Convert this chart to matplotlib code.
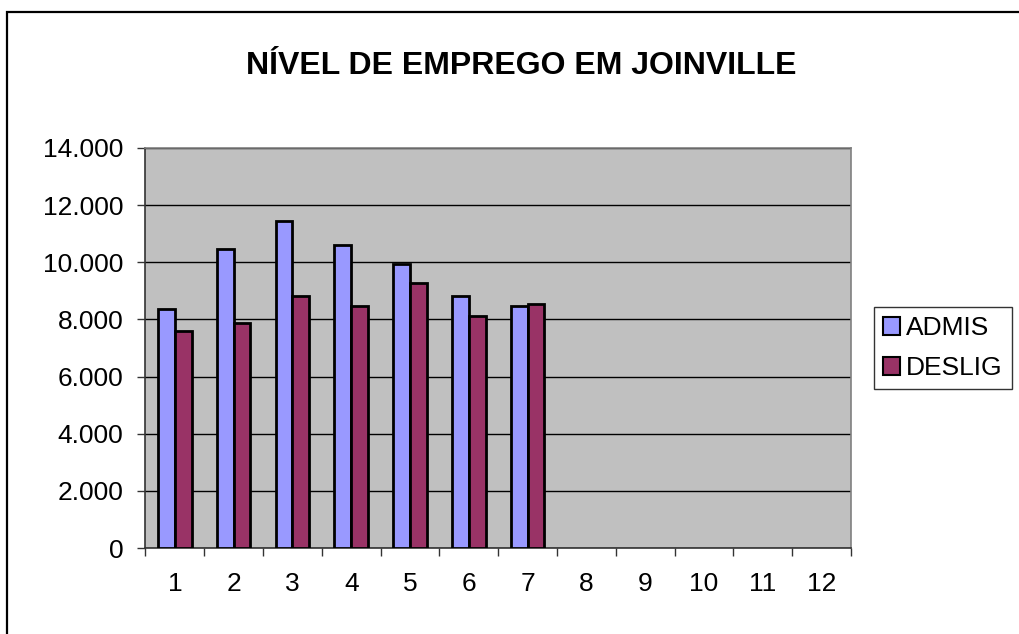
import numpy as np
import matplotlib
matplotlib.use("Agg")
import matplotlib.pyplot as plt
from matplotlib.patches import Rectangle
from matplotlib.ticker import FuncFormatter

plt.rcParams["font.family"] = ["Liberation Sans", "DejaVu Sans"]

months = ["1", "2", "3", "4", "5", "6", "7", "8", "9", "10", "11", "12"]
admis = [8360, 10460, 11450, 10600, 9950, 8830, 8470]
deslig = [7590, 7860, 8820, 8470, 9290, 8120, 8550]
series_names = ["ADMIS", "DESLIG"]
y_ticks = [0, 2000, 4000, 6000, 8000, 10000, 12000, 14000]

col_admis = "#9999FF"
col_deslig = "#993366"

fig = plt.figure(figsize=(10.2, 6.34), dpi=100)

# outer chart frame (right/bottom fall outside the picture)
fig.patches.append(Rectangle((7 / 1020, -0.1), 1.2, 1 - 12 / 634 + 0.1,
                             transform=fig.transFigure, fill=False,
                             edgecolor="black", linewidth=1.6))

ax = fig.add_axes([145.5 / 1020, 1 - 548 / 634, (851 - 145.5) / 1020, 400 / 634])
ax.set_facecolor("#C0C0C0")

x = np.arange(len(months))
w = 1 / 3.5
ax.bar(x[:len(admis)] - w / 2, admis, w, color=col_admis, edgecolor="black",
       linewidth=2, label=series_names[0], zorder=3)
ax.bar(x[:len(deslig)] + w / 2, deslig, w, color=col_deslig, edgecolor="black",
       linewidth=2, label=series_names[1], zorder=3)

ax.set_xlim(-0.5, len(months) - 0.5)
ax.set_ylim(0, 14000)
ax.set_yticks(y_ticks)
ax.yaxis.set_major_formatter(FuncFormatter(lambda v, p: f"{int(v):,}".replace(",", ".")))
ax.grid(axis="y", color="black", linewidth=1.0, zorder=1)

# category labels centred, ticks on the boundaries
ax.set_xticks(x)
ax.set_xticklabels(months)
ax.set_xticks(np.arange(-0.5, len(months)), minor=True)
ax.tick_params(axis="x", which="major", length=0, pad=17, labelsize=19)
ax.tick_params(axis="x", which="minor", length=6, width=1, color="#333333")
ax.tick_params(axis="y", length=6, width=1, color="#333333", pad=10, labelsize=19)

for side in ["left", "bottom", "right", "top"]:
    ax.spines[side].set_color("#808080")
    ax.spines[side].set_linewidth(1.2)
ax.spines["left"].set_color("#333333")
ax.spines["bottom"].set_color("#333333")

fig.text(521 / 1020, 1 - 66 / 634, "NÍVEL DE EMPREGO EM JOINVILLE", ha="center",
         va="center", fontsize=23, fontweight="bold")

leg = fig.legend(loc="upper left", bbox_to_anchor=(874 / 1020, 1 - 307 / 634),
                 fontsize=19, frameon=True, fancybox=False, shadow=False,
                 handlelength=0.65, handleheight=0.65, handletextpad=0.2,
                 labelspacing=0.6, borderpad=0.35, borderaxespad=0)
leg.get_frame().set_edgecolor("black")
leg.get_frame().set_linewidth(1.0)
for h in leg.legend_handles:
    h.set_linewidth(1.5)

fig.savefig("out.png", dpi=100)
